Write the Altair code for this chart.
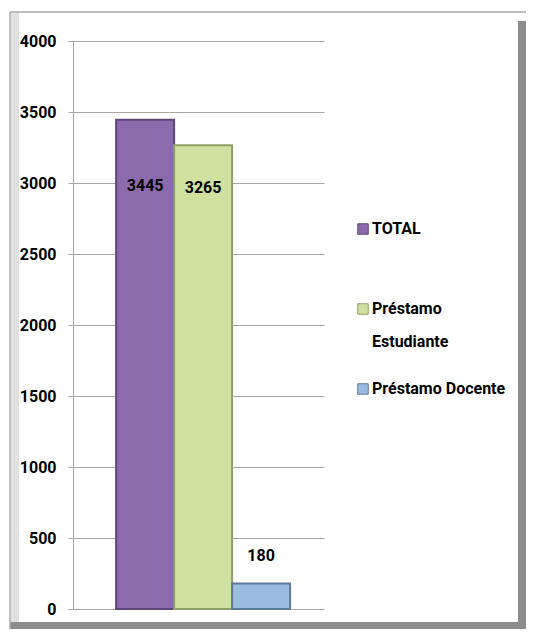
import altair as alt
import pandas as pd

series = ["TOTAL", "Préstamo Estudiante", "Préstamo Docente"]
values = [3445, 3265, 180]
y_ticks = [0, 500, 1000, 1500, 2000, 2500, 3000, 3500, 4000]

fills = ["#8b6bab", "#cfe09f", "#9bbbe0"]
strokes = ["#5e4678", "#8f9f68", "#5f7a99"]

df = pd.DataFrame({"serie": series, "valor": values})

FONT = "Roboto, Liberation Sans, sans-serif"
FS = 16
W, H = 251, 568

x_enc = alt.X("serie:N", sort=series, axis=None,
              scale=alt.Scale(paddingInner=0, paddingOuter=0.664, align=0.56))
y_enc = alt.Y("valor:Q", scale=alt.Scale(domain=[0, 4000], nice=False),
              axis=alt.Axis(values=y_ticks, format="d", title=None, grid=True,
                            gridColor="#a6a6a6", domainColor="#a6a6a6",
                            tickColor="#a6a6a6", tickSize=5,
                            labelPadding=12, labelFont=FONT, labelFontSize=FS,
                            labelFontWeight="bold", labelColor="#000000"))

color_enc = alt.Color("serie:N", sort=series,
                      scale=alt.Scale(domain=series, range=fills),
                      legend=alt.Legend(title=None, orient="none", legendX=282, legendY=180,
                                        symbolType="square", symbolSize=110,
                                        symbolStrokeWidth=1, labelFont=FONT,
                                        labelFontSize=FS, labelFontWeight="bold",
                                        labelColor="#000000", labelOffset=1,
                                        rowPadding=31, gridAlign="all", padding=0,
                                        labelLimit=300,
                                        labelExpr="datum.label == 'Préstamo Estudiante' ? ['Préstamo', 'Estudiante'] : datum.label"))

bars = alt.Chart(df).mark_bar(strokeWidth=2, strokeJoin="miter").encode(
    x=x_enc, y=y_enc, color=color_enc,
    stroke=alt.Stroke("serie:N", sort=series, scale=alt.Scale(domain=series, range=strokes), legend=None),
)

def label(name, dy):
    return alt.Chart(df).transform_filter(alt.datum.serie == name).mark_text(
        font=FONT, fontSize=FS, fontWeight="bold", color="#000000", dy=dy
    ).encode(x=alt.X("serie:N", sort=series), y="valor:Q", text="valor:Q")

labels = label("TOTAL", 66) + label("Préstamo Estudiante", 43) + label("Préstamo Docente", -27)

# decorative bevelled frame (pixel positions relative to plot area)
frame_light = alt.Chart(df.head(1)).mark_rect(color="#e0e0e0").encode(
    x=alt.value(-62), x2=alt.value(-54), y=alt.value(-28), y2=alt.value(584))
frame_bottom = alt.Chart(df.head(1)).mark_rect(color="#8c8c8c").encode(
    x=alt.value(-63), x2=alt.value(445), y=alt.value(581), y2=alt.value(588))
frame_right = alt.Chart(df.head(1)).mark_rect(color="#8c8c8c").encode(
    x=alt.value(445), x2=alt.value(453), y=alt.value(-20), y2=alt.value(588))
frame_top = alt.Chart(df.head(1)).mark_rule(color="#aaaaaa", strokeWidth=1.5).encode(
    x=alt.value(-63), x2=alt.value(453), y=alt.value(-29))
frame_left = alt.Chart(df.head(1)).mark_rule(color="#aaaaaa", strokeWidth=1.5).encode(
    x=alt.value(-63), y=alt.value(-29), y2=alt.value(588))

chart = alt.layer(
    frame_light, frame_bottom, frame_right, frame_top, frame_left, bars, labels
).properties(
    width=W, height=H,
    autosize=alt.AutoSizeParams(type="none"),
    padding={"left": 65, "top": 33, "right": 202, "bottom": 20},
    background="#ffffff",
).configure(
    view={"strokeWidth": 0},
    style={"guide-label": {"lineHeight": 33}},
)

chart.save("out.html", embed_options={"renderer": "svg", "actions": False})
